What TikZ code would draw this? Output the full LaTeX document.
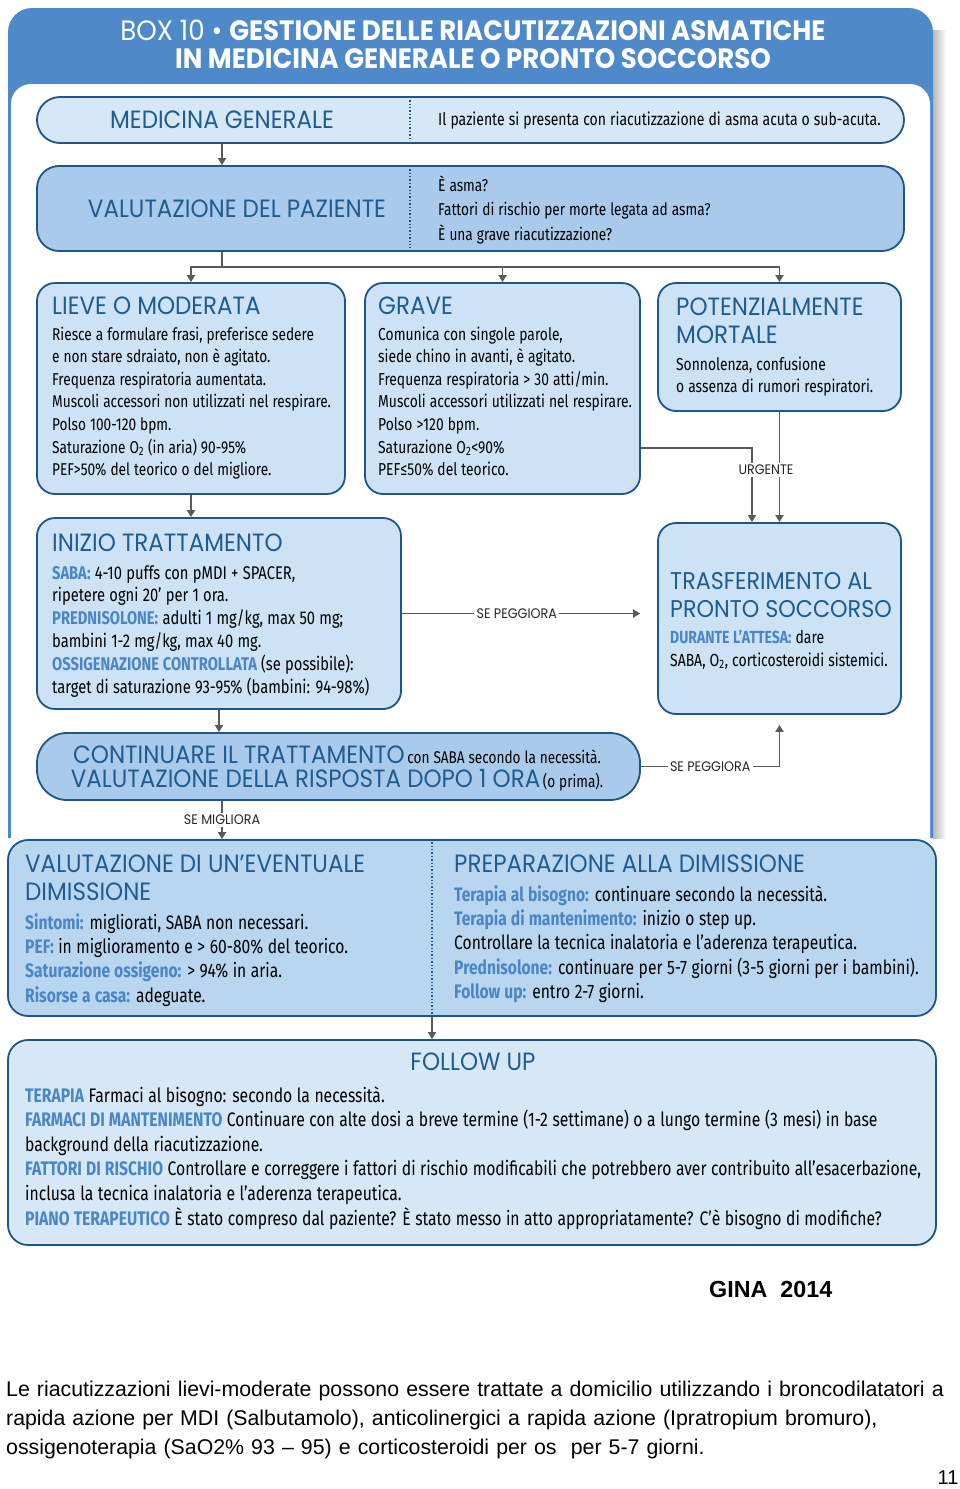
\documentclass[tikz,border=0pt]{standalone}
\usepackage{fontspec}
\setmainfont{Fira Sans}
\newfontfamily\titf[FakeStretch=0.92]{Poppins}
\newfontfamily\headf[FakeStretch=0.93]{Poppins}
\newfontfamily\bodf[FakeStretch=0.8, WordSpace=1.1]{Fira Sans}
\newfontfamily\arialf{Liberation Sans}
\usetikzlibrary{arrows.meta,calc}
\definecolor{hblue}{HTML}{4E89C9}
\definecolor{tblue}{HTML}{1E5C92}
\definecolor{lblue}{HTML}{4A86C6}
\definecolor{bord}{HTML}{1F5687}
\definecolor{arrc}{HTML}{5A5A5A}
\definecolor{fA}{HTML}{D6E7F6}
\definecolor{fB}{HTML}{A9CAEA}
\definecolor{fC}{HTML}{CDE2F5}
\definecolor{fD}{HTML}{B9D6F0}
\newcommand\kw[1]{\textbf{\color{lblue}#1}}
\newcommand\ns{\spaceskip=0pt\xspaceskip=0pt\relax}
\begin{document}
\begin{tikzpicture}[x=1pt,y=-1pt,
  box/.style={draw=bord, line width=1.8pt, inner sep=0pt},
  arr/.style={draw=arrc, line width=1.8pt, -{Triangle[length=7pt,width=8pt]}},
  ln/.style={draw=arrc, line width=1.8pt},
  dots/.style={draw=bord, line width=1.4pt, dotted},
  ttl/.style={font=\titf\fontsize{25}{28}\selectfont, text=tblue, inner sep=0pt, anchor=west},
  bod/.style={font=\bodf\fontsize{17.1}{22.6}\selectfont, inner sep=0pt, anchor=base west, align=left},
  bodm/.style={font=\bodf\fontsize{17.5}{22.8}\selectfont, inner sep=0pt, anchor=base west, align=left},
  bodl/.style={font=\bodf\fontsize{19.5}{24.4}\selectfont, inner sep=0pt, anchor=base west, align=left},
  lab/.style={font=\titf\fontsize{13.8}{15}\selectfont, fill=white, inner sep=2.5pt, text=black!85}]
\useasboundingbox (0,0) rectangle (960,1489);
\fill[white] (0,0) rectangle (960,1489);
% outer frame
\shade[left color=black!28, right color=white] (933,30) rectangle (946,838);
\fill[hblue] (8,838) {[rounded corners=24] -- (8,8) -- (933,8)} -- (933,838) -- cycle;
\fill[white] (11,838) {[rounded corners=20] -- (11,84) -- (930,84)} -- (930,838) -- cycle;
\node[text=white, font=\headf\fontsize{28}{32}\selectfont, inner sep=0pt] (h1) at (473,30) {BOX 10 • \textbf{GESTIONE DELLE RIACUTIZZAZIONI ASMATICHE}};
\node[text=white, font=\headf\fontsize{28}{32}\selectfont, inner sep=0pt] (h2) at (473,59) {\textbf{IN MEDICINA GENERALE O PRONTO SOCCORSO}};

% boxes
\node[box, fill=fA, rounded corners=23pt, minimum width=867pt, minimum height=46pt] (mg) at (470.5,120) {};
\node[box, fill=fB, rounded corners=22pt, minimum width=867pt, minimum height=85pt] (vp) at (470.5,208.5) {};
\node[box, fill=fC, rounded corners=18pt, minimum width=308pt, minimum height=211pt] (lieve) at (191,388.5) {};
\node[box, fill=fC, rounded corners=18pt, minimum width=275pt, minimum height=211pt] (grave) at (502.5,388.5) {};
\node[box, fill=fC, rounded corners=18pt, minimum width=243pt, minimum height=128pt] (mort) at (779.5,347) {};
\node[box, fill=fC, rounded corners=18pt, minimum width=364pt, minimum height=191pt] (inizio) at (219,613.5) {};
\node[box, fill=fC, rounded corners=18pt, minimum width=243pt, minimum height=191pt] (trasf) at (779.5,618.5) {};
\node[box, fill=fB, rounded corners=30pt, minimum width=603pt, minimum height=67pt] (cont) at (338.5,766.5) {};
\node[box, fill=fD, rounded corners=20pt, minimum width=928pt, minimum height=176pt] (dimi) at (472,928) {};
\node[box, fill=fA, rounded corners=20pt, minimum width=928pt, minimum height=205pt] (fu) at (472,1142.5) {};

% dividers
\draw[dots] ($(mg.north)+(-60.5,4)$) -- ($(mg.south)+(-60.5,-4)$);
\draw[dots] ($(vp.north)+(-60.5,4)$) -- ($(vp.south)+(-60.5,-4)$);
\draw[dots] ($(dimi.north)+(-40,3)$) -- ($(dimi.south)+(-40,0)$);

% texts
\node[ttl, anchor=center] (mgt) at (222,120) {MEDICINA GENERALE};
\node[bodm] (mgb) at (438,125) {Il paziente si presenta con riacutizzazione di asma acuta o sub-acuta.};
\node[ttl, anchor=center] (vpt) at (237,209) {VALUTAZIONE DEL PAZIENTE};
\node[bodm, text width=450pt, font=\bodf\fontsize{17.1}{24.5}\selectfont] (vpb) at (438,191) {\ns È asma?\\ Fattori di rischio per morte legata ad asma?\\ È una grave riacutizzazione?};

\node[ttl] (lvt) at (52,306) {LIEVE O MODERATA};
\node[bod, text width=290pt] (lvb) at (52,340) {\ns Riesce a formulare frasi, preferisce sedere\\ e non stare sdraiato, non è agitato.\\ Frequenza respiratoria aumentata.\\ Muscoli accessori non utilizzati nel respirare.\\ Polso 100-120 bpm.\\ Saturazione O\textsubscript{2} (in aria) 90-95\%\\ PEF>50\% del teorico o del migliore.};

\node[ttl] (grt) at (378,306) {GRAVE};
\node[bod, text width=260pt, font=\bodf\fontsize{17.3}{22.6}\selectfont] (grb) at (378,340) {\ns Comunica con singole parole,\\ siede chino in avanti, è agitato.\\ Frequenza respiratoria > 30 atti/min.\\ Muscoli accessori utilizzati nel respirare.\\ Polso >120 bpm.\\ Saturazione O\textsubscript{2}<90\%\\ PEF≤50\% del teorico.};

\node[ttl] (mot1) at (676,307) {POTENZIALMENTE};
\node[ttl] (mot2) at (676,335) {MORTALE};
\node[bod, text width=220pt, font=\bodf\fontsize{17.3}{22.6}\selectfont] (mob) at (676,370) {\ns Sonnolenza, confusione\\ o assenza di rumori respiratori.};

\node[ttl] (izt) at (52,543) {INIZIO TRATTAMENTO};
\node[bodm, text width=345pt, font=\bodf\fontsize{18.4}{22.8}\selectfont] (izb) at (52,579) {\ns\kw{SABA:} 4-10 puffs con pMDI + SPACER,\\ ripetere ogni 20’ per 1 ora.\\ \kw{PREDNISOLONE:} adulti 1 mg/kg, max 50 mg;\\ bambini 1-2 mg/kg, max 40 mg.\\ \kw{OSSIGENAZIONE CONTROLLATA} (se possibile):\\ target di saturazione 93-95\% (bambini: 94-98\%)};

\node[ttl, font=\titf\fontsize{24.2}{28}\selectfont] (trt1) at (670,581) {TRASFERIMENTO AL};
\node[ttl, font=\titf\fontsize{24.2}{28}\selectfont] (trt2) at (670,609) {PRONTO SOCCORSO};
\node[bodm, text width=228pt, font=\bodf\fontsize{17.5}{23}\selectfont] (trb) at (670,643) {\ns\kw{DURANTE L’ATTESA:} dare\\ SABA, O\textsubscript{2}, corticosteroidi sistemici.};

\node[inner sep=0pt, anchor=base] (ct1) at (337,763) {{\titf\fontsize{25}{28}\selectfont\color{tblue}CONTINUARE IL TRATTAMENTO} {\bodf\fontsize{17}{20}\selectfont con SABA secondo la necessità.}};
\node[inner sep=0pt, anchor=base] (ct2) at (337,787) {{\titf\fontsize{25}{28}\selectfont\color{tblue}VALUTAZIONE DELLA RISPOSTA DOPO 1 ORA} {\bodf\fontsize{17}{20}\selectfont (o prima).}};

\node[ttl] (dt1) at (25,864) {VALUTAZIONE DI UN’EVENTUALE};
\node[ttl] (dt2) at (25,892) {DIMISSIONE};
\node[bodl, text width=395pt] (db1) at (25,929) {\ns\kw{Sintomi:} migliorati, SABA non necessari.\\ \kw{PEF:} in miglioramento e > 60-80\% del teorico.\\ \kw{Saturazione ossigeno:} > 94\% in aria.\\ \kw{Risorse a casa:} adeguate.};
\node[ttl] (pt1) at (454,864) {PREPARAZIONE ALLA DIMISSIONE};
\node[bodl, text width=475pt] (db2) at (454,901) {\ns\kw{Terapia al bisogno:} continuare secondo la necessità.\\ \kw{Terapia di mantenimento:} inizio o step up.\\ Controllare la tecnica inalatoria e l’aderenza terapeutica.\\ \kw{Prednisolone:} continuare per 5-7 giorni (3-5 giorni per i bambini).\\ \kw{Follow up:} entro 2-7 giorni.};

\node[ttl, anchor=center] (fut) at (473,1062) {FOLLOW UP};
\node[bodl, text width=910pt, font=\bodf\fontsize{19.6}{24.6}\selectfont] (fub) at (25,1102) {\ns\kw{TERAPIA} Farmaci al bisogno: secondo la necessità.\\ \kw{FARMACI DI MANTENIMENTO} Continuare con alte dosi a breve termine (1-2 settimane) o a lungo termine (3 mesi) in base\\ background della riacutizzazione.\\ \kw{FATTORI DI RISCHIO} Controllare e correggere i fattori di rischio modificabili che potrebbero aver contribuito all’esacerbazione,\\ inclusa la tecnica inalatoria e l’aderenza terapeutica.\\ \kw{PIANO TERAPEUTICO} È stato compreso dal paziente? È stato messo in atto appropriatamente? C’è bisogno di modifiche?};

% connectors
\coordinate (c1) at ($(mg.south)+(-248.5,0)$);
\draw[arr] (c1) -- (c1 |- vp.north);
\coordinate (c2) at ($(vp.south)+(-248.5,0)$);
\coordinate (split) at ($(c2)+(0,15)$);
\draw[ln] (c2) -- (split);
\draw[arr] (split) -| (lieve.north);
\draw[arr] (split) -| (grave.north);
\draw[arr] (split) -| (mort.north);
\draw[arr] (lieve.south) -- (lieve.south |- inizio.north);
\coordinate (c4) at ($(trasf.north)+(-27.5,0)$);
\coordinate (c4a) at ($(grave.east)+(0,59.5)$);
\draw[arr] (c4a) -| (c4);
\draw[arr] (mort.south) -- (trasf.north);
\node[lab] (urg) at (766,470) {URGENTE};
\draw[arr, shorten >=17pt] (inizio.east) -- (inizio.east -| trasf.west) node[lab, pos=0.45] (sp1) {SE PEGGIORA};
\draw[arr] (inizio.south) -- (inizio.south |- cont.north);
\coordinate (c8) at ($(trasf.south)+(0,10)$);
\draw[arr] (cont.east) -| (c8) node[lab, pos=0.25] (sp2) {SE PEGGIORA};
\coordinate (c9) at ($(cont.south)+(-116.5,0)$);
\draw[arr] (c9) -- (c9 |- dimi.north) node[lab, midway] (sm) {SE MIGLIORA};
\coordinate (c10) at ($(dimi.south)+(-40,0)$);
\draw[arr] (c10) -- (c10 |- fu.north);

% bottom text
\node[font=\arialf\bfseries\fontsize{23.3}{26}\selectfont, anchor=west, inner sep=0pt] (gina) at (709,1289) {GINA\ \ 2014};
\node[font=\arialf\fontsize{21.3}{29}\selectfont, anchor=base west, align=left, text width=955pt, inner sep=0pt] (para) at (6,1396) {Le riacutizzazioni lievi-moderate possono essere trattate a domicilio utilizzando i broncodilatatori a\\ rapida azione per MDI (Salbutamolo), anticolinergici a rapida azione (Ipratropium bromuro),\\ ossigenoterapia (SaO2\% 93 – 95) e corticosteroidi per os\ \ per 5-7 giorni.};
\node[font=\arialf\fontsize{20}{22}\selectfont, anchor=center, inner sep=0pt] (pg) at (948,1478) {11};
\end{tikzpicture}
\end{document}
